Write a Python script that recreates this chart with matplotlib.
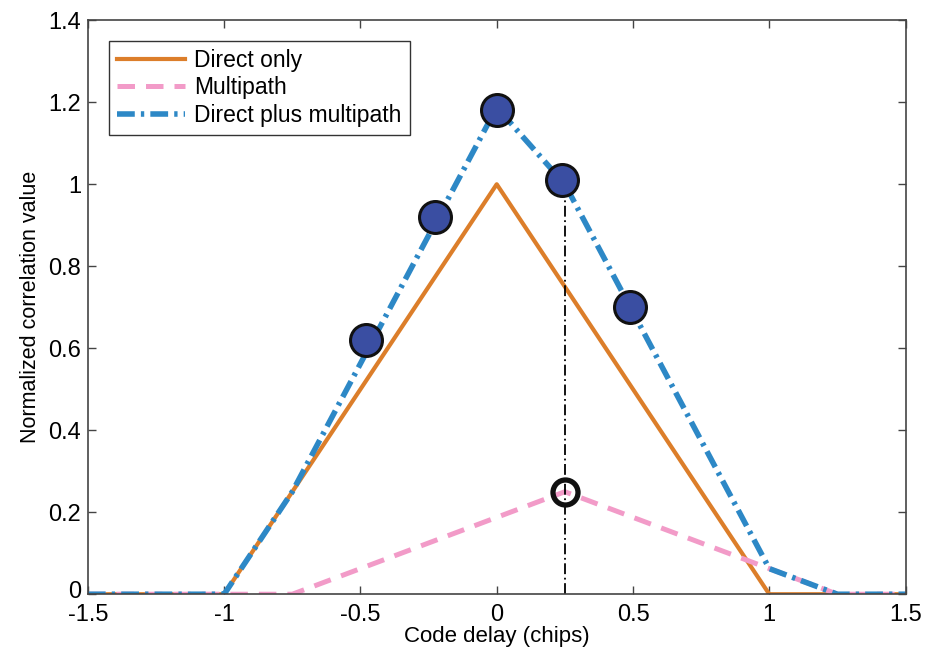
import matplotlib
matplotlib.use("Agg")
import matplotlib.pyplot as plt
import matplotlib.transforms as mtransforms

plt.rcParams['font.family'] = ['Liberation Sans', 'DejaVu Sans']

# chart data
delay_direct = [-1.5, -1.0, 0.0, 1.0, 1.5]
corr_direct = [0.0, 0.0, 1.0, 0.0, 0.0]

delay_multi = [-1.5, -0.75, 0.25, 1.25, 1.5]
corr_multi = [0.0, 0.0, 0.25, 0.0, 0.0]

delay_sum = [-1.5, -1.0, -0.75, 0.0, 0.25, 1.0, 1.25, 1.5]
corr_sum = [0.0, 0.0, 0.25, 1.1875, 1.0, 0.0625, 0.0, 0.0]

sample_delay = [-0.48, -0.225, 0.0, 0.24, 0.49]
sample_corr = [0.62, 0.92, 1.18, 1.01, 0.70]

peak_delay = 0.25
peak_multi = 0.25
peak_sum = 1.0

orange = '#dc7e2a'
pink = '#f29bc8'
blue = '#2d88c6'

fig = plt.figure(figsize=(9.25, 6.53), dpi=100)
ax = fig.add_axes([0.095, 0.090, 0.884, 0.879])

ax.plot(delay_direct, corr_direct, color=orange, lw=3.0, label='Direct only')
ax.plot(delay_multi, corr_multi, color=pink, lw=3.6, ls=(0, (3.5, 2.2)),
        label='Multipath')
ax.plot(delay_sum, corr_sum, color=blue, lw=4.0,
        ls=(0, (3.2, 1.1, 0.6, 1.1)), label='Direct plus multipath')

ax.plot([peak_delay, peak_delay], [0, peak_sum], color='black', lw=1.3,
        ls=(0, (6, 2, 1, 2)))
ax.plot(sample_delay, sample_corr, ls='none', marker='o', ms=23,
        mfc='#3a4ea2', mec='#111111', mew=2.2)
ax.plot([peak_delay], [peak_multi], ls='none', marker='o', ms=18,
        mfc='none', mec='#111111', mew=3.8)

ax.set_xlim(-1.5, 1.5)
ax.set_ylim(0, 1.4)
ax.set_xticks([-1.5, -1, -0.5, 0, 0.5, 1, 1.5])
ax.set_xticklabels(['-1.5', '-1', '-0.5', '0', '0.5', '1', '1.5'])
ax.set_yticks([0, 0.2, 0.4, 0.6, 0.8, 1, 1.2, 1.4])
ax.set_yticklabels(['0', '0.2', '0.4', '0.6', '0.8', '1', '1.2', '1.4'])
ax.tick_params(direction='in', top=True, right=True, length=6, width=1,
               labelsize=17, color='#444444')
ax.tick_params(axis='x', pad=7)
ax.tick_params(axis='y', pad=5)
for s in ax.spines.values():
    s.set_color('#444444')
    s.set_linewidth(1.2)

# nudge the y "0" up a little so it clears the "-1.5" below it
zero_lbl = ax.get_yticklabels()[0]
zero_lbl.set_transform(zero_lbl.get_transform() +
                       mtransforms.ScaledTranslation(0, 5 / 100,
                                                     fig.dpi_scale_trans))

ax.set_xlabel('Code delay (chips)', fontsize=16, labelpad=0)
ax.set_ylabel('Normalized correlation value', fontsize=15.5, labelpad=5)

leg = ax.legend(loc='upper left', fontsize=16.5, fancybox=False,
                edgecolor='#333333', framealpha=1, handlelength=3.0,
                borderaxespad=0.9, labelspacing=0.2, handletextpad=0.4,
                borderpad=0.35)
leg.get_frame().set_linewidth(1.0)

fig.savefig('out.png', dpi=100)
